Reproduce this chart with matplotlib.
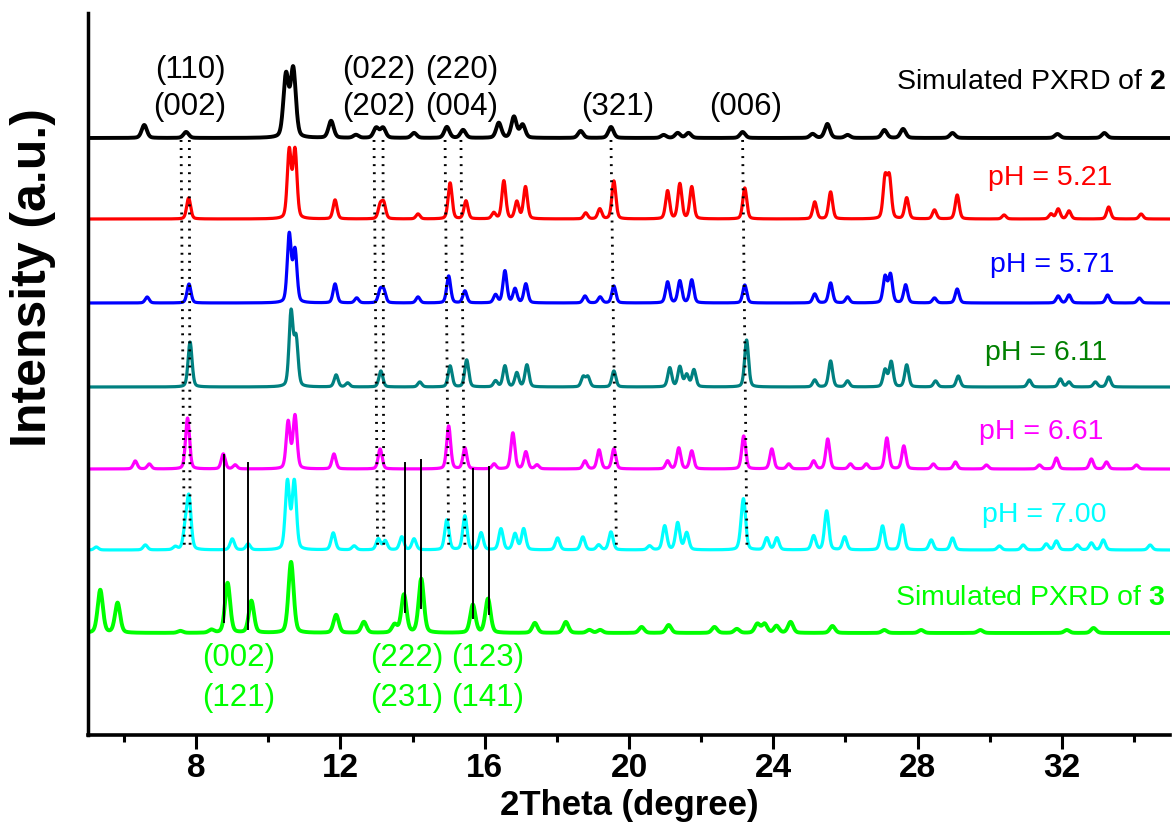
import numpy as np
import matplotlib
matplotlib.use("Agg")
import matplotlib.pyplot as plt

# ---- pattern data: peak positions (2theta, degree) and peak heights (a.u.) ----
sim2_pos = [6.56, 7.72, 10.49, 10.69, 11.74, 12.43, 12.99, 13.18, 14.04, 14.95, 15.40,
            16.39, 16.81, 17.05, 18.66, 19.50, 20.96, 21.35, 21.65, 23.15, 25.09, 25.50,
            26.06, 27.08, 27.60, 28.97, 31.88, 33.18]
sim2_int = [13, 6, 62, 68, 17, 3, 10, 10, 5, 11, 8,
            15, 21, 13, 7, 11, 3, 5, 5, 6, 4, 14,
            3, 8, 9, 5, 4, 5]

ph521_pos = [7.79, 10.58, 10.74, 11.85, 13.10, 13.20, 14.15, 15.04, 15.48, 16.25, 16.53,
             16.89, 17.13, 18.80, 19.19, 19.58, 21.07, 21.41, 21.74, 23.21, 25.15, 25.59,
             27.10, 27.22, 27.70, 28.47, 29.10, 30.40, 31.70, 31.90, 32.20, 33.30, 34.20]
ph521_int = [21, 68, 68, 19, 13, 15, 5, 36, 18, 6, 38,
             17, 32, 6, 10, 38, 28, 35, 32, 31, 17, 27,
             40, 40, 21, 9, 24, 4, 5, 10, 8, 12, 5]

ph571_pos = [6.64, 7.80, 10.58, 10.74, 11.85, 12.45, 13.10, 13.20, 14.15, 15.00, 15.45,
             16.30, 16.56, 16.84, 17.14, 18.78, 19.20, 19.58, 21.07, 21.41, 21.74, 23.21,
             25.15, 25.59, 26.06, 27.10, 27.25, 27.67, 28.47, 29.10, 31.90, 32.20, 33.27, 34.15]
ph571_int = [6, 19, 68, 52, 19, 5, 12, 12, 6, 27, 12,
             8, 32, 14, 19, 7, 6, 17, 21, 22, 23, 18,
             9, 20, 6, 26, 28, 18, 5, 14, 7, 8, 8, 5]

ph611_pos = [7.83, 10.63, 10.77, 11.88, 12.20, 13.12, 14.20, 15.04, 15.50, 16.30, 16.56,
             16.89, 17.17, 18.73, 18.86, 19.58, 21.13, 21.41, 21.60, 21.80, 23.26, 25.15,
             25.59, 26.06, 27.10, 27.27, 27.70, 28.50, 29.13, 31.10, 31.96, 32.20, 32.93, 33.30]
ph611_int = [45, 74, 47, 12, 4, 16, 5, 21, 27, 6, 21,
             14, 22, 10, 10, 16, 19, 20, 12, 17, 47, 7,
             26, 6, 17, 25, 22, 6, 11, 7, 8, 5, 5, 10]

ph661_pos = [6.31, 6.70, 7.76, 8.75, 9.08, 10.55, 10.74, 11.82, 13.10, 15.00, 15.45,
             16.26, 16.78, 17.14, 17.45, 18.78, 19.17, 19.58, 21.07, 21.38, 21.74, 23.18,
             23.96, 24.43, 25.12, 25.51, 26.14, 26.58, 27.15, 27.62, 28.44, 29.05, 29.91,
             31.38, 31.85, 32.82, 33.24, 34.07]
ph661_int = [8, 5, 51, 15, 4, 47, 53, 15, 20, 43, 21,
             5, 36, 17, 4, 8, 19, 20, 8, 21, 18, 33,
             20, 5, 8, 30, 5, 5, 31, 23, 5, 7, 4,
             4, 11, 10, 7, 4]

ph700_pos = [5.23, 6.59, 7.42, 7.70, 7.80, 9.00, 9.44, 10.53, 10.72, 11.80, 12.38,
             13.05, 13.24, 13.70, 14.04, 14.95, 15.45, 15.90, 16.45, 16.84, 17.08, 18.02,
             18.72, 19.16, 19.50, 20.57, 20.99, 21.35, 21.60, 23.12, 23.18, 23.82, 24.10,
             25.12, 25.48, 25.98, 27.03, 27.58, 28.38, 28.97, 30.27, 30.93, 31.57, 31.85,
             32.43, 32.82, 33.15, 34.45]
ph700_int = [3, 5, 3, 20, 50, 11, 6, 68, 68, 17, 4,
             11, 9, 13, 11, 30, 34, 17, 21, 16, 21, 12,
             13, 5, 18, 4, 24, 27, 17, 10, 45, 12, 12,
             14, 39, 13, 24, 25, 10, 12, 4, 5, 6, 9,
             5, 7, 10, 5]

sim3_pos = [5.34, 5.82, 7.56, 8.42, 8.87, 9.53, 10.63, 11.88, 12.65, 13.50, 13.76,
            14.24, 15.67, 16.09, 17.39, 18.25, 18.90, 19.20, 20.35, 21.10, 22.37, 22.99,
            23.56, 23.76, 24.09, 24.48, 25.64, 27.08, 28.10, 29.74, 32.14, 32.88]
sim3_int = [43, 30, 2, 3, 50, 32, 71, 18, 11, 8, 38,
            54, 28, 34, 10, 11, 3, 3, 6, 8, 6, 4,
            9, 9, 7, 11, 7, 3, 3, 3, 3, 5]

# vertical offsets of the stacked patterns
offsets = [597, 516, 432, 348, 266, 185, 102]
line_colors = ["#000000", "#ff0000", "#0000ff", "#008080", "#ff00ff", "#00ffff", "#00ff00"]
labels = ["Simulated PXRD of $\\mathbf{2}$", "pH = 5.21", "pH = 5.71", "pH = 6.11",
          "pH = 6.61", "pH = 7.00", "Simulated PXRD of $\\mathbf{3}$"]
label_colors = ["#000000", "#ff0000", "#0000ff", "#008000", "#ff00ff", "#00ffff", "#00ff00"]
label_x = [34.9, 31.68, 31.74, 31.57, 31.43, 31.52, 34.87]
label_y = [653, 557, 470, 382, 303, 220, 137]
label_ha = ["right", "center", "center", "center", "center", "center", "right"]

# reflections of compound 2 (dotted guides) and compound 3 (solid guides)
dotted_top = [7.58, 7.81, 12.93, 13.18, 14.90, 15.34, 19.50, 23.15]
dotted_bot = [7.67, 7.83, 13.03, 13.20, 15.00, 15.45, 19.65, 23.27]
solid_x = [8.77, 9.44, 13.79, 14.23, 15.67, 16.11]
solid_top = [280, 272, 272, 275, 266, 268]
solid_bot = [113, 106, 123, 127, 117, 121]

hkl2_upper = ["(110)", "(022)", "(220)"]
hkl2_upper_x = [7.83, 13.05, 15.37]
hkl2_lower = ["(002)", "(202)", "(004)", "(321)", "(006)"]
hkl2_lower_x = [7.83, 13.05, 15.37, 19.70, 23.24]
hkl3_upper = ["(002)", "(222)", "(123)"]
hkl3_lower = ["(121)", "(231)", "(141)"]
hkl3_x = [9.17, 13.84, 16.08]

x_ticks = [8, 12, 16, 20, 24, 28, 32]


def profile(x, pos, inten, fwhm):
    """Pseudo-Voigt sum of reflections."""
    y = np.zeros_like(x)
    s = fwhm / 2.3548
    g = fwhm / 2.0
    for p, h in zip(pos, inten):
        gauss = np.exp(-0.5 * ((x - p) / s) ** 2)
        lor = g ** 2 / ((x - p) ** 2 + g ** 2)
        y += h * (0.7 * gauss + 0.3 * lor)
    return y


plt.rcParams["font.family"] = ["Liberation Sans", "DejaVu Sans"]
plt.rcParams["mathtext.fontset"] = "custom"
plt.rcParams["mathtext.bf"] = "Liberation Sans:bold"
plt.rcParams["mathtext.rm"] = "Liberation Sans"

fig = plt.figure(figsize=(11.74, 8.27), dpi=100)
ax = fig.add_axes([88 / 1174, 92 / 827, (1170 - 88) / 1174, (735 - 13) / 827])

x = np.linspace(5, 35, 4001)
patterns = [(sim2_pos, sim2_int, 0.17), (ph521_pos, ph521_int, 0.13),
            (ph571_pos, ph571_int, 0.13), (ph611_pos, ph611_int, 0.13),
            (ph661_pos, ph661_int, 0.13), (ph700_pos, ph700_int, 0.14),
            (sim3_pos, sim3_int, 0.17)]
widths = [2.8, 2.3, 2.3, 2.3, 2.3, 2.3, 2.8]
for (pos, inten, fw), off, col, lw in zip(patterns, offsets, line_colors, widths):
    ax.plot(x, off + profile(x, pos, inten, fw), color=col, lw=lw, solid_joinstyle="round")

for xt, xb in zip(dotted_top, dotted_bot):
    ax.plot([xt, xb], [595, 190], color="black", lw=2.0, linestyle=(0, (0.7, 2.2)),
            dash_capstyle="butt")
for xs, yt, yb in zip(solid_x, solid_top, solid_bot):
    ax.plot([xs, xs], [yt, yb], color="black", lw=1.4)

for txt, xc, yc, col, ha in zip(labels, label_x, label_y, label_colors, label_ha):
    ax.text(xc, yc, txt, color=col, fontsize=20.5, ha=ha, va="center")

for txt, xc in zip(hkl2_upper, hkl2_upper_x):
    ax.text(xc, 665, txt, fontsize=22.5, ha="center", va="center")
for txt, xc in zip(hkl2_lower, hkl2_lower_x):
    ax.text(xc, 628, txt, fontsize=22.5, ha="center", va="center")
for up, lo, xc in zip(hkl3_upper, hkl3_lower, hkl3_x):
    ax.text(xc, 77, up, fontsize=22.5, ha="center", va="center", color="#00ff00")
    ax.text(xc, 37, lo, fontsize=22.5, ha="center", va="center", color="#00ff00")

ax.set_xlim(5, 35)
ax.set_ylim(0, 722)
ax.set_xticks(x_ticks)
ax.set_xticks(np.arange(6, 35, 4), minor=True)
ax.set_yticks([])
for side in ["top", "right"]:
    ax.spines[side].set_visible(False)
ax.spines["left"].set_linewidth(2.5)
ax.spines["bottom"].set_linewidth(2.6)
ax.tick_params(axis="x", which="major", direction="out", length=10, width=2.2, pad=3,
               labelsize=24)
ax.tick_params(axis="x", which="minor", direction="out", length=5, width=2.2)
for lab in ax.get_xticklabels():
    lab.set_fontweight("bold")
ax.set_xlabel("2Theta (degree)", fontsize=25, fontweight="bold", va="center")
ax.xaxis.set_label_coords(0.5, -(806 - 735) / 722)
ax.set_ylabel("Intensity (a.u.)", fontsize=36, fontweight="bold", va="center")
ax.yaxis.set_label_coords(-(88 - 33) / 1082, (735 - 278) / 722)

fig.savefig("out.png", dpi=100)
